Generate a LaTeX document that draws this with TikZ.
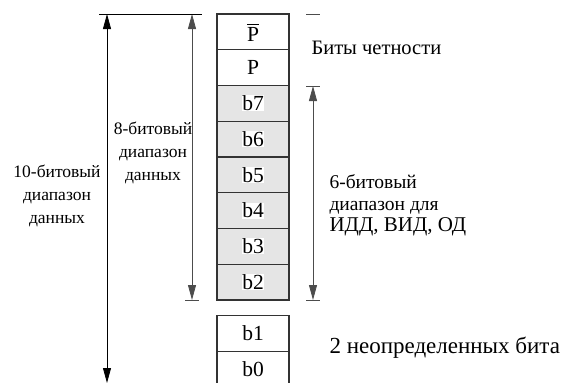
\documentclass[tikz,border=0pt]{standalone}
\usepackage{amsmath}
\usepackage{fontspec}
\setmainfont{Liberation Serif}
\usetikzlibrary{arrows.meta}

\newcommand{\bitlab}[1]{{\setlength{\fboxsep}{0.5pt}\colorbox{white}{#1}}}

\begin{document}
\begin{tikzpicture}[x=1pt,y=-1pt,
        cell/.style={draw=black!80, line width=1.2pt, minimum width=72pt, minimum height=35.75pt, inner sep=0pt, font=\fontsize{21.5}{24}\selectfont},
        datacell/.style={cell, fill=black!10},
        spanarrow/.style={line width=0.8pt, {Triangle[length=15pt,width=8pt]}-{Triangle[length=15pt,width=8pt]}},
        tick/.style={line width=0.8pt},
        leftlabel/.style={align=center, font=\fontsize{17.5}{22.8}\selectfont},
        rightlabel/.style={anchor=west, align=left, font=\fontsize{21}{24}\selectfont}]
        \useasboundingbox (0,0) rectangle (563,383);

        \node[cell] (pbar) at (253,31.9) {$\overline{\text{P}}$};
        \node[cell] (p) at (253,67.6) {P};
        \node[datacell] (b7) at (253,103.4) {\bitlab{b7}};
        \node[datacell] (b6) at (253,139.1) {\bitlab{b6}};
        \node[datacell] (b5) at (253,174.9) {\bitlab{b5}};
        \node[datacell] (b4) at (253,210.6) {\bitlab{b4}};
        \node[datacell] (b3) at (253,246.4) {\bitlab{b3}};
        \node[datacell] (b2) at (253,282.1) {\bitlab{b2}};
        \node[cell] (b1) at (253,333.4) {b1};
        \node[cell] (b0) at (253,369.1) {b0};

        \coordinate (tenTop) at (107,14);
        \coordinate (tenBot) at (107,383);
        \coordinate (eightTop) at (192,14);
        \coordinate (eightBot) at (192,300);
        \coordinate (sixTop) at (313,86);
        \coordinate (sixBot) at (313,300);

        \draw[spanarrow] (tenTop) -- (tenBot);
        \draw[spanarrow, draw=black!70, fill=black] (eightTop) -- (eightBot);
        \draw[spanarrow, draw=black!70, fill=black] (sixTop) -- (sixBot);

        \draw[tick] (99,14) -- (202,14);
        \draw[tick, black!70] (185,300) -- (199,300);
        \draw[tick, black!70] (306,14) -- (320,14);
        \draw[tick, black!70] (306,86) -- (320,86);
        \draw[tick, black!70] (306,300) -- (320,300);

        \node[leftlabel] (tenLabel) at (57,196) {10-битовый\\диапазон\\данных};
        \node[leftlabel] (eightLabel) at (153,153) {8-битовый\\диапазон\\данных};

        \node[rightlabel, font=\fontsize{20.5}{24}\selectfont] (parity) at (308,48) {Биты четности};
        \node[rightlabel, font=\fontsize{19.5}{22}\selectfont] (sixLabel) at (326,194) {6-битовый\\диапазон для};
        \node[rightlabel] (sixLabelB) at (326,227) {ИДД, ВИД, ОД};
        \node[rightlabel, font=\fontsize{23}{26}\selectfont] (undef) at (326,348) {2 неопределенных бита};
\end{tikzpicture}
\end{document}
